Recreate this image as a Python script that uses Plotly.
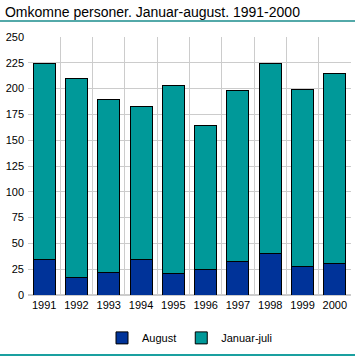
import plotly.graph_objects as go

years = ["1991", "1992", "1993", "1994", "1995", "1996", "1997", "1998", "1999", "2000"]
august = [34, 17, 22, 34, 21, 25, 32, 40, 28, 31]
januar_juli = [190, 193, 167, 149, 182, 139, 166, 184, 171, 184]
y_ticks = [0, 25, 50, 75, 100, 125, 150, 175, 200, 225, 250]

FONT = "Liberation Sans, Arial, sans-serif"

fig = go.Figure()
fig.add_trace(go.Bar(x=years, y=august, name="August",
                     marker=dict(color="#003399", line=dict(color="black", width=1))))
fig.add_trace(go.Bar(x=years, y=januar_juli, name="Januar-juli",
                     marker=dict(color="#009999", line=dict(color="black", width=1))))

fig.update_layout(
    barmode="stack",
    bargap=0.32,
    width=355, height=357,
    margin=dict(l=28, r=4, t=37, b=62, autoexpand=False),
    paper_bgcolor="white", plot_bgcolor="white",
    font=dict(family=FONT, size=11, color="black"),
    title=dict(text="Omkomne personer. Januar-august. 1991-2000",
               x=0.014, xanchor="left", y=0.965, yanchor="middle",
               font=dict(size=14, family=FONT)),
    showlegend=True,
    legend=dict(orientation="h", x=0.5, xanchor="center", y=-0.11, yanchor="top",
                font=dict(size=11), traceorder="normal", itemwidth=30),
    xaxis=dict(tickson="boundaries", showgrid=True, gridcolor="#cccccc", gridwidth=1,
               ticks="", showline=True, linecolor="#cccccc", mirror=False,
               tickangle=0, automargin=False, tickfont=dict(size=11)),
    yaxis=dict(range=[0, 250], tickvals=y_ticks, showgrid=True, gridcolor="#cccccc",
               gridwidth=1, ticks="", showline=False, zeroline=True, zerolinecolor="#cccccc",
               automargin=False, ticklabelstandoff=3, tickfont=dict(size=11)),
    shapes=[
        dict(type="line", xref="paper", yref="paper", x0=-0.1, x1=1.02,
             y0=1.0 + 16/258, y1=1.0 + 16/258, line=dict(color="#1a8c8c", width=1.5)),
        dict(type="line", xref="paper", yref="paper", x0=-0.1, x1=1.02,
             y0=-60/258, y1=-60/258, line=dict(color="#1aa0a0", width=2)),
    ],
)

fig.write_html("out.html", config={"displayModeBar": False},
               post_script="document.body.style.margin='0';document.body.style.overflow='hidden';")
